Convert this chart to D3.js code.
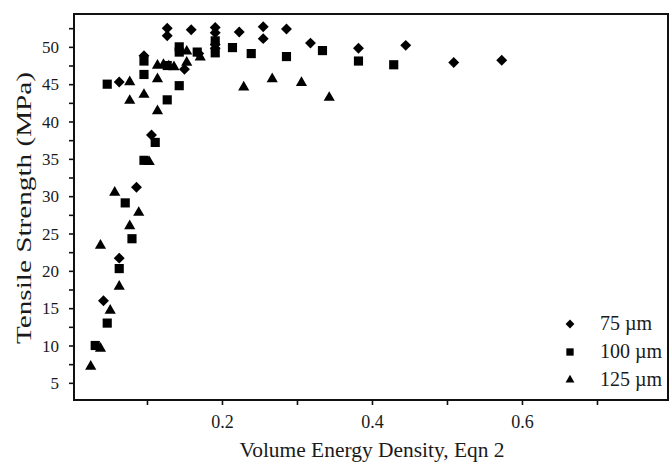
<!DOCTYPE html>
<html>
<head>
<meta charset="utf-8">
<script src="https://cdn.jsdelivr.net/npm/d3@7"></script>
<style>
  body { margin: 0; background: #fff; }
  svg text { font-family: "Liberation Serif", "Times New Roman", "DejaVu Serif", serif; fill: #1a1a1a; }
</style>
</head>
<body>
<svg id="chart" width="670" height="465"></svg>
<script>
// 75 um (diamonds)
const x75 = [0.042, 0.063, 0.063, 0.086, 0.096, 0.106, 0.127, 0.127, 0.150, 0.159, 0.169, 0.191, 0.191, 0.191, 0.191, 0.223, 0.255, 0.255, 0.286, 0.318, 0.382, 0.445, 0.509, 0.573];
const y75 = [16.0, 21.7, 45.3, 31.2, 48.8, 38.2, 52.5, 51.5, 47.0, 52.3, 49.1, 52.6, 51.9, 50.3, 49.8, 52.0, 52.7, 51.1, 52.4, 50.5, 49.8, 50.2, 47.9, 48.2];
// 100 um (squares)
const x100 = [0.031, 0.047, 0.047, 0.063, 0.071, 0.080, 0.096, 0.096, 0.096, 0.111, 0.127, 0.127, 0.143, 0.143, 0.143, 0.167, 0.191, 0.191, 0.214, 0.239, 0.286, 0.334, 0.382, 0.429];
const y100 = [10.0, 13.0, 45.0, 20.3, 29.1, 24.3, 34.8, 46.3, 48.1, 37.2, 42.9, 47.5, 44.8, 50.0, 49.3, 49.3, 50.8, 49.2, 49.9, 49.1, 48.7, 49.5, 48.1, 47.6];
// 125 um (triangles)
const x125 = [0.025, 0.038, 0.038, 0.051, 0.057, 0.063, 0.077, 0.077, 0.077, 0.089, 0.096, 0.103, 0.114, 0.114, 0.114, 0.122, 0.129, 0.136, 0.153, 0.153, 0.171, 0.229, 0.267, 0.306, 0.343];
const y125 = [7.2, 9.6, 23.4, 14.7, 30.5, 17.9, 26.0, 42.8, 45.3, 27.8, 43.6, 34.6, 45.7, 41.4, 47.5, 47.6, 47.4, 47.3, 47.9, 49.4, 48.6, 44.6, 45.7, 45.2, 43.2];

const seriesNames = ["75 \u00b5m", "100 \u00b5m", "125 \u00b5m"];
const xTicks = [0.1, 0.2, 0.3, 0.4, 0.5, 0.6, 0.7];
const xLabels = [0.2, 0.4, 0.6];
const yTicks = [5, 7.5, 10, 12.5, 15, 17.5, 20, 22.5, 25, 27.5, 30, 32.5, 35, 37.5, 40, 42.5, 45, 47.5, 50, 52.5];
const yLabels = [5, 10, 15, 20, 25, 30, 35, 40, 45, 50];

const serif = "Liberation Serif, Times New Roman, serif";
const svg = d3.select("#chart");
const margin = {left: 74, right: 2, top: 14, bottom: 65};
const W = 670, H = 465;

const x = d3.scaleLinear().domain([0.0027, 0.7947]).range([margin.left, W - margin.right]);
const y = d3.scaleLinear().domain([2.7, 54.4]).range([H - margin.bottom, margin.top]);

const symDiamond = d3.symbol().type(d3.symbolSquare).size(60)();
const symSquare = d3.symbol().type(d3.symbolSquare).size(84)();
const symTriangle = d3.symbol().type(d3.symbolTriangle).size(54)();

const series = [
  {xs: x75, ys: y75, path: symDiamond, rot: 45},
  {xs: x100, ys: y100, path: symSquare, rot: 0},
  {xs: x125, ys: y125, path: symTriangle, rot: 0}
];

// axes
const xAxis = d3.axisBottom(x).tickValues(xTicks).tickSize(5)
  .tickFormat(d => xLabels.some(v => Math.abs(v - d) < 1e-9) ? d3.format(".1f")(d) : "");
svg.append("g").attr("transform", "translate(0," + (H - margin.bottom) + ")").call(xAxis)
  .attr("font-family", serif).attr("font-size", 18)
  .call(g => g.select(".domain").remove())
  .call(g => g.selectAll("line").attr("stroke", "#111").attr("stroke-width", 1.6))
  .call(g => g.selectAll("text").attr("y", 28).attr("dy", 0));

const yAxis = d3.axisLeft(y).tickValues(yTicks).tickSize(5)
  .tickFormat(d => yLabels.includes(d) ? d : "");
svg.append("g").attr("transform", "translate(" + margin.left + ",0)").call(yAxis)
  .attr("font-family", serif).attr("font-size", 17)
  .call(g => g.select(".domain").remove())
  .call(g => g.selectAll("line").attr("stroke", "#111").attr("stroke-width", 1.6))
  .call(g => g.selectAll("text").attr("x", -15).attr("dy", "0.34em"));

// frame
svg.append("rect")
  .attr("x", margin.left).attr("y", margin.top)
  .attr("width", W - margin.right - margin.left)
  .attr("height", H - margin.bottom - margin.top)
  .attr("fill", "none").attr("stroke", "#111").attr("stroke-width", 2);

// points
series.forEach(s => {
  svg.append("g").selectAll("path")
    .data(s.xs.map((v, i) => [v, s.ys[i]]))
    .enter().append("path")
    .attr("d", s.path)
    .attr("transform", d => "translate(" + x(d[0]) + "," + y(d[1]) + ") rotate(" + s.rot + ")")
    .attr("fill", "#000");
});

// legend
const legend = svg.append("g");
series.forEach((s, i) => {
  const ly = 324 + i * 28;
  legend.append("path").attr("d", s.path)
    .attr("transform", "translate(570," + ly + ") rotate(" + s.rot + ") scale(0.8)")
    .attr("fill", "#000");
  legend.append("text").attr("x", 600).attr("y", ly + 6)
    .attr("font-size", 20).text(seriesNames[i]);
});

// axis titles
svg.append("text")
  .attr("transform", "rotate(-90)")
  .attr("x", -208).attr("y", 31)
  .attr("text-anchor", "middle")
  .attr("font-size", 22)
  .attr("textLength", 272).attr("lengthAdjust", "spacingAndGlyphs")
  .text("Tensile Strength (MPa)");

svg.append("text")
  .attr("x", 372).attr("y", 457)
  .attr("text-anchor", "middle")
  .attr("font-size", 21)
  .attr("textLength", 265).attr("lengthAdjust", "spacingAndGlyphs")
  .text("Volume Energy Density, Eqn 2");
</script>
</body>
</html>
